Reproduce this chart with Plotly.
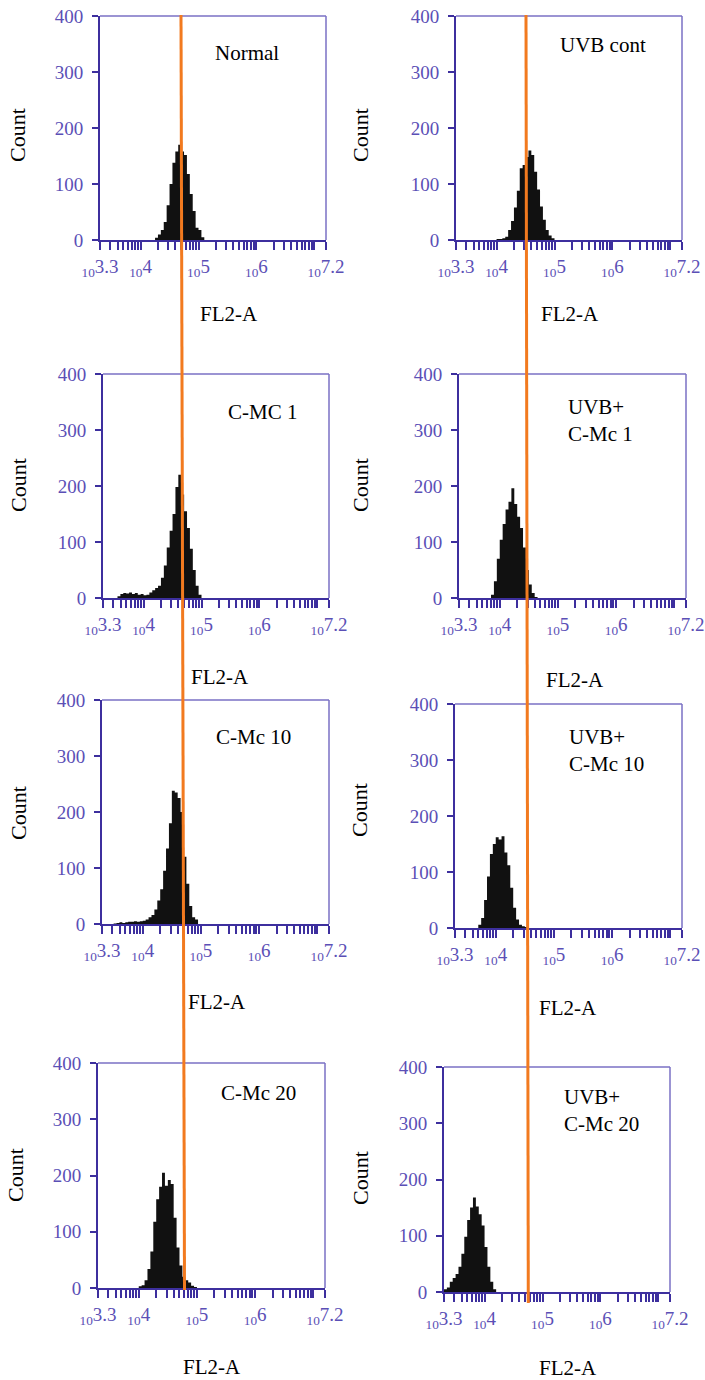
import plotly.graph_objects as go

# ---------------- data ----------------
# left edges of histogram bins, in log10(FL2-A) units (bin width 0.05 decade)
BIN_LOG = [3.30, 3.35, 3.40, 3.45, 3.50, 3.55, 3.60, 3.65, 3.70, 3.75,
           3.80, 3.85, 3.90, 3.95, 4.00, 4.05, 4.10, 4.15, 4.20, 4.25,
           4.30, 4.35, 4.40, 4.45, 4.50, 4.55, 4.60, 4.65, 4.70, 4.75,
           4.80, 4.85, 4.90, 4.95, 5.00, 5.05, 5.10]
BIN_END_LOG = 5.15

NORMAL = [0, 0, 0, 0, 0, 0, 0, 0, 0, 0, 0, 0, 0, 0, 0, 0, 0, 0, 0, 4,
          10, 18, 32, 62, 100, 138, 158, 170, 158, 152, 118, 82, 52, 22, 18, 5, 0]
UVB_CONT = [0, 0, 0, 0, 0, 0, 0, 0, 0, 0, 0, 0, 0, 0, 2, 2, 3, 6, 18, 34,
            58, 88, 128, 134, 148, 160, 152, 122, 90, 60, 36, 18, 8, 3, 0, 0, 0]
CMC_1 = [0, 0, 0, 0, 0, 3, 7, 9, 8, 10, 7, 9, 6, 7, 5, 6, 10, 14, 18, 22,
         36, 58, 90, 120, 150, 198, 220, 185, 155, 125, 88, 50, 22, 6, 0, 0, 0]
UVB_CMC_1 = [0, 0, 0, 0, 0, 0, 0, 0, 0, 0, 0, 6, 30, 70, 104, 132, 158, 172, 196, 168,
             145, 125, 90, 50, 24, 9, 2, 0, 0, 0, 0, 0, 0, 0, 0, 0, 0]
CMC_10 = [0, 0, 0, 0, 1, 2, 3, 2, 3, 4, 4, 5, 4, 5, 6, 8, 12, 16, 26, 42,
          62, 95, 135, 180, 238, 235, 225, 200, 120, 72, 32, 12, 8, 0, 0, 0, 0]
UVB_CMC_10 = [0, 0, 0, 0, 0, 0, 0, 0, 6, 18, 50, 92, 132, 150, 162, 158, 164, 135, 112, 72,
              36, 15, 6, 3, 2, 0, 0, 0, 0, 0, 0, 0, 0, 0, 0, 0, 0]
CMC_20 = [0, 0, 0, 0, 0, 0, 0, 0, 0, 0, 0, 0, 0, 0, 3, 5, 14, 34, 65, 118,
          158, 180, 205, 182, 192, 185, 125, 72, 40, 20, 14, 10, 4, 2, 0, 0, 0]
UVB_CMC_20 = [5, 8, 18, 25, 32, 45, 68, 98, 128, 150, 168, 152, 138, 118, 80, 45, 18, 5, 0, 0,
              0, 0, 0, 0, 0, 0, 0, 0, 0, 0, 0, 0, 0, 0, 0, 0, 0]

PANEL_LABELS = ["Normal", "UVB cont", "C-MC 1", "UVB+<br>C-Mc 1",
                "C-Mc 10", "UVB+<br>C-Mc 10", "C-Mc 20", "UVB+<br>C-Mc 20"]
SERIES = [NORMAL, UVB_CONT, CMC_1, UVB_CMC_1, CMC_10, UVB_CMC_10, CMC_20, UVB_CMC_20]

Y_TICKS = [0, 100, 200, 300, 400]
X_LABEL_EXPONENTS = ["3.3", "4", "5", "6", "7.2"]
X_LABEL_LOGS = [3.3, 4, 5, 6, 7.2]

# ---------------- layout geometry (pixels) ----------------
W, H = 705, 1380
# left, right, top, bottom of each plot area
BOXES = [(100, 326, 16, 240), (456, 682, 16, 240),
         (103, 329, 374, 598), (459, 686, 374, 598),
         (102, 329, 700, 924), (455, 682, 704, 928),
         (98, 325, 1063, 1288), (444, 670, 1067, 1292)]
COUNT_POS = [(17, 135), (360, 135), (18, 485), (360, 485),
             (18, 813), (359, 810), (15, 1175), (360, 1178)]
FL2_POS = [(229, 314), (570, 314), (220, 677), (575, 680),
           (217, 1002), (568, 1008), (212, 1367), (568, 1368)]
LABEL_POS = [(247, 53, "c"), (603, 45, "c"), (262, 412, "c"), (566, 393, "l"),
             (253, 737, "c"), (567, 723, "l"), (258, 1093, "c"), (562, 1083, "l")]

AXIS_COL = "#3d2f9e"
FRAME_COL = "#7a70c4"
TICKLABEL_COL = "#5b4fb6"
SERIF = "Liberation Serif, DejaVu Serif, serif"

def px_x(p):
    return p / W

def px_y(p):
    return 1 - p / H

# x ticks: labelled ends / decades + log minor positions
major_vals = [10 ** lg for lg in X_LABEL_LOGS]
major_text = ["<sub>10</sub>" + ex for ex in X_LABEL_EXPONENTS]
minor_vals = []
for d in range(3, 8):
    for k in range(2, 10):
        v = k * 10 ** d
        if 10 ** 3.32 < v < 10 ** 7.19:
            minor_vals.append(v)
minor_vals.append(10 ** 7)

fig = go.Figure()
layout = dict(width=W, height=H, margin=dict(l=0, r=0, t=0, b=0, autoexpand=False),
              template="none",
              paper_bgcolor="white", plot_bgcolor="white", showlegend=False,
              font=dict(family=SERIF, color="black"))
shapes, annotations = [], []

x_edges = [10 ** b for b in BIN_LOG] + [10 ** BIN_END_LOG]

for i, (counts, box) in enumerate(zip(SERIES, BOXES)):
    n = i + 1
    xa = "x" if n == 1 else f"x{n}"
    ya = "y" if n == 1 else f"y{n}"
    fig.add_trace(go.Scatter(
        x=x_edges, y=list(counts) + [0], xaxis=xa, yaxis=ya,
        mode="lines", line=dict(shape="hv", width=0, color="#111111"),
        fill="tozeroy", fillcolor="#111111", hoverinfo="skip"))
    l, r, t, b = box
    layout[f"xaxis{'' if n == 1 else n}"] = dict(
        domain=[px_x(l), px_x(r)], anchor=ya, type="log", range=[3.3, 7.2],
        automargin=False,
        tickmode="array", tickvals=major_vals, ticktext=major_text,
        ticks="outside", ticklen=8, tickwidth=2, tickcolor=AXIS_COL,
        minor=dict(tickmode="array", tickvals=minor_vals, ticks="outside",
                   ticklen=8, tickwidth=2, tickcolor=AXIS_COL, showgrid=False),
        tickfont=dict(size=19, color=TICKLABEL_COL, family=SERIF),
        showline=True, linecolor=AXIS_COL, linewidth=2,
        showgrid=False, zeroline=False, fixedrange=True)
    layout[f"yaxis{'' if n == 1 else n}"] = dict(
        domain=[px_y(b), px_y(t)], anchor=xa, range=[0, 400],
        automargin=False,
        tickmode="array", tickvals=Y_TICKS,
        ticks="outside", ticklen=6, tickwidth=2, tickcolor=AXIS_COL,
        tickfont=dict(size=19, color=TICKLABEL_COL, family=SERIF),
        ticklabelstandoff=5,
        showline=True, linecolor=AXIS_COL, linewidth=2,
        showgrid=False, zeroline=False, fixedrange=True)
    # lighter top and right frame lines
    shapes.append(dict(type="line", xref=f"{xa} domain", yref=f"{ya} domain",
                       x0=0, x1=1, y0=1, y1=1, line=dict(color=FRAME_COL, width=1.5)))
    shapes.append(dict(type="line", xref=f"{xa} domain", yref=f"{ya} domain",
                       x0=1, x1=1, y0=0, y1=1, line=dict(color=FRAME_COL, width=1.5)))
    cx, cy = COUNT_POS[i]
    annotations.append(dict(text="Count", x=px_x(cx), y=px_y(cy), xref="paper", yref="paper",
                            showarrow=False, textangle=-90, font=dict(size=22, family=SERIF),
                            xanchor="center", yanchor="middle"))
    fx, fy = FL2_POS[i]
    annotations.append(dict(text="FL2-A", x=px_x(fx), y=px_y(fy), xref="paper", yref="paper",
                            showarrow=False, font=dict(size=21, family=SERIF),
                            xanchor="center", yanchor="middle"))
    lx, ly, al = LABEL_POS[i]
    if al == "c":
        annotations.append(dict(text=PANEL_LABELS[i], x=px_x(lx), y=px_y(ly), xref="paper",
                                yref="paper", showarrow=False, font=dict(size=21, family=SERIF),
                                xanchor="center", yanchor="middle"))
    else:
        annotations.append(dict(text=PANEL_LABELS[i], x=px_x(lx), y=px_y(ly), xref="paper",
                                yref="paper", showarrow=False, font=dict(size=21, family=SERIF),
                                xanchor="left", yanchor="top", align="left"))

# orange reference lines running through each column
ORANGE = "#F27A1F"
shapes.append(dict(type="line", xref="paper", yref="paper",
                   x0=px_x(181), y0=px_y(15), x1=px_x(184.5), y1=px_y(1290),
                   line=dict(color=ORANGE, width=3), layer="above"))
shapes.append(dict(type="line", xref="paper", yref="paper",
                   x0=px_x(526), y0=px_y(15), x1=px_x(528.3), y1=px_y(1303),
                   line=dict(color=ORANGE, width=3), layer="above"))

layout["shapes"] = shapes
layout["annotations"] = annotations
fig.update_layout(**layout)
fig.write_html("out.html", config={"displayModeBar": False},
               post_script="document.body.style.margin='0';document.body.style.overflow='hidden';")
